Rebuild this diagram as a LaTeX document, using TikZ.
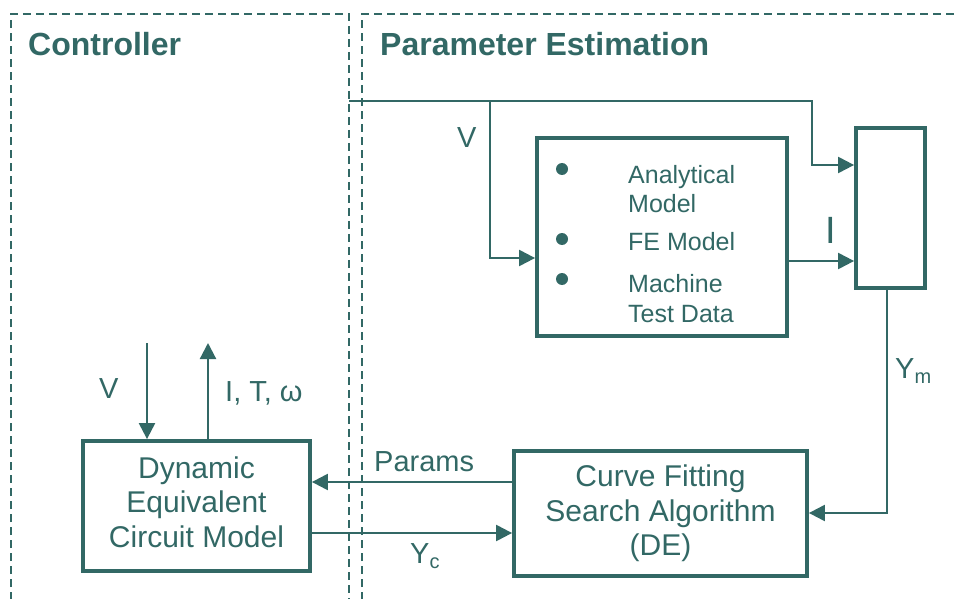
\documentclass[tikz,border=0pt]{standalone}
\usepackage{fontspec}
\setmainfont{Liberation Sans}
\usetikzlibrary{arrows.meta}
\definecolor{teal1}{RGB}{50,104,101}
\begin{document}
\begin{tikzpicture}[x=1pt,y=-1pt,
  box/.style={draw=teal1, line width=3.8pt, inner sep=0pt, align=center, text=teal1, font=\fontsize{30}{34.5}\selectfont},
  conn/.style={draw=teal1, line width=2.2pt, -{Triangle[length=16pt,width=16pt]}},
  region/.style={draw=teal1, line width=1.6pt, dash pattern=on 8pt off 5pt},
  lbl/.style={text=teal1, inner sep=0pt, anchor=base west, font=\fontsize{29}{34}\selectfont},
  head/.style={text=teal1, inner sep=0pt, anchor=base west, font=\fontsize{32}{38}\selectfont\bfseries},
  item/.style={text=teal1, inner sep=0pt, anchor=base west, font=\fontsize{25}{29}\selectfont},
  bullet/.style={fill=teal1}
]
\useasboundingbox (0,0) rectangle (959,599);

% regions
\draw[region] (11,600) -- (11,14) -- (349,14) -- (349,600);
\draw[region] (362,600) -- (362,14) -- (962,14);
\node[head] (hctrl) at (28,56) {Controller};
\node[head] (hpe) at (380,56) {Parameter Estimation};

% boxes
\node[box, minimum width=227pt, minimum height=130pt] (dyn) at (196.5,506)
  {Dynamic\\Equivalent\\Circuit Model\rule[-8pt]{0pt}{8pt}};
\node[box, minimum width=250pt, minimum height=198pt] (mb) at (662,237) {};
\node[box, minimum width=69pt, minimum height=160pt] (rb) at (890.5,208) {};
\node[box, minimum width=293pt, minimum height=125pt] (cb) at (660.5,513.5)
  {Curve Fitting\\Search Algorithm\\(DE)\rule[-4pt]{0pt}{4pt}};

% list inside models box
\fill[bullet] (562,169) circle (6);
\fill[bullet] (562,239) circle (6);
\fill[bullet] (562,279) circle (6);
\node[item] (it1) at (628,183) {Analytical};
\node[item] (it1b) at (628,212) {Model};
\node[item] (it2) at (628,251) {FE Model};
\node[item] (it3) at (628,292) {Machine};
\node[item] (it3b) at (628,322) {Test Data};

% connector coordinates
\coordinate (ctop) at (349,101);
\coordinate (b1) at (812,165);
\coordinate (b2) at (490,258);
\coordinate (b3) at (700,261);
\coordinate (b4) at (887,513);
\coordinate (b5) at (400,482);
\coordinate (b6) at (400,533);
\coordinate (vtop) at (147,343);
\coordinate (otop) at (208,343);

% connectors
\draw[conn] (ctop) -| (b1) -- (b1 -| rb.west);
\draw[conn] (b2 |- ctop) -- (b2) -- (b2 -| mb.west);
\draw[conn] (b3 -| mb.east) -- (b3 -| rb.west);
\draw[conn] (b4 |- rb.south) -- (b4) -- (b4 -| cb.east);
\draw[conn] (b5 -| cb.west) -- (b5 -| dyn.east);
\draw[conn] (b6 -| dyn.east) -- (b6 -| cb.west);
\draw[conn] (vtop) -- (vtop |- dyn.north);
\draw[conn] (otop |- dyn.north) -- (otop);

% labels
\node[lbl] (lv1) at (457,148) {V};
\node[lbl, font=\fontsize{38}{40}\selectfont] (li) at (825,243) {I};
\node[lbl] (lym) at (895,378) {Y\raisebox{-5pt}{\fontsize{20}{20}\selectfont m}};
\node[lbl] (lpar) at (374,471) {Params};
\node[lbl] (lyc) at (410,563) {Y\raisebox{-5pt}{\fontsize{20}{20}\selectfont c}};
\node[lbl] (lv2) at (99,398) {V};
\node[lbl] (lout) at (225,401) {I, T, ω};
\end{tikzpicture}
\end{document}
